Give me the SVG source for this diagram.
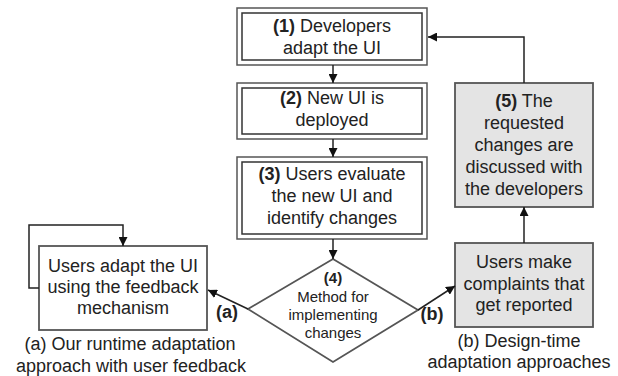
<svg xmlns="http://www.w3.org/2000/svg" width="618" height="376" viewBox="0 0 618 376">
<style>
text{font-family:"Liberation Sans",Arial,sans-serif;font-size:18px;fill:#222;text-anchor:middle}
.b{font-weight:bold}
.s{font-size:15px}
.o{fill:#fff;stroke:#555;stroke-width:1.5}
.i{fill:none;stroke:#333;stroke-width:1.5}
.g{fill:#e4e4e4;stroke:#555;stroke-width:1.8}
.w{fill:#fff;stroke:#555;stroke-width:1.8}
.c{fill:none;stroke:#222;stroke-width:1.5}
</style>
<defs>
<marker id="ah" viewBox="0 0 10 10" refX="10" refY="5" markerWidth="9" markerHeight="9" markerUnits="userSpaceOnUse" orient="auto"><path d="M0,0L10,5L0,10z" fill="#111"/></marker>
</defs>
<rect width="618" height="376" fill="#fff"/>
<g id="n1">
<rect class="o" x="237" y="8" width="190" height="57"/>
<rect class="i" x="242" y="13" width="180" height="47"/>
<text x="332" y="32"><tspan class="b">(1)</tspan> Developers</text>
<text x="332" y="54">adapt the UI</text>
</g>
<g id="n2">
<rect class="o" x="237" y="83" width="190" height="56"/>
<rect class="i" x="242" y="88" width="180" height="46"/>
<text x="332" y="104"><tspan class="b">(2)</tspan> New UI is</text>
<text x="332" y="126">deployed</text>
</g>
<g id="n3">
<rect class="o" x="237" y="157" width="190" height="82"/>
<rect class="i" x="242" y="162" width="180" height="72"/>
<text x="332" y="180"><tspan class="b">(3)</tspan> Users evaluate</text>
<text x="332" y="202">the new UI and</text>
<text x="332" y="224">identify changes</text>
</g>
<g id="n4">
<path class="w" d="M333,259L418,310L333,362L248,309z"/>
<text class="s b" x="333" y="283">(4)</text>
<text class="s" x="333" y="302">Method for</text>
<text class="s" x="333" y="320">implementing</text>
<text class="s" x="333" y="338">changes</text>
</g>
<g id="na">
<rect class="w" x="39" y="246" width="168" height="84"/>
<text x="123" y="272">Users adapt the UI</text>
<text x="123" y="293">using the feedback</text>
<text x="123" y="314">mechanism</text>
<text x="130" y="350">(a) Our runtime adaptation</text>
<text x="131" y="372">approach with user feedback</text>
</g>
<g id="nb">
<rect class="g" x="455" y="243" width="138" height="84"/>
<text x="524" y="268">Users make</text>
<text x="524" y="290">complaints that</text>
<text x="524" y="311">get reported</text>
<text x="519" y="347">(b) Design-time</text>
<text x="519" y="368">adaptation approaches</text>
</g>
<g id="n5">
<rect class="g" x="455" y="83" width="138" height="124"/>
<text x="524" y="107"><tspan class="b">(5)</tspan> The</text>
<text x="524" y="129">requested</text>
<text x="524" y="151">changes are</text>
<text x="524" y="173">discussed with</text>
<text x="524" y="195">the developers</text>
</g>
<g id="connectors">
<path class="c" d="M333,65V83" marker-end="url(#ah)"/>
<path class="c" d="M333,139V157" marker-end="url(#ah)"/>
<path class="c" d="M333,239V259" marker-end="url(#ah)"/>
<path class="c" d="M248,309L208,290" marker-end="url(#ah)"/>
<path class="c" d="M418,310L455,286" marker-end="url(#ah)"/>
<path class="c" d="M524,243V207" marker-end="url(#ah)"/>
<path class="c" d="M524,83V37H428" marker-end="url(#ah)"/>
<path class="c" d="M39,288H29V225H123V246" marker-end="url(#ah)"/>
<text class="b" x="227" y="318">(a)</text>
<text class="b" x="432" y="320">(b)</text>
</g>
</svg>
